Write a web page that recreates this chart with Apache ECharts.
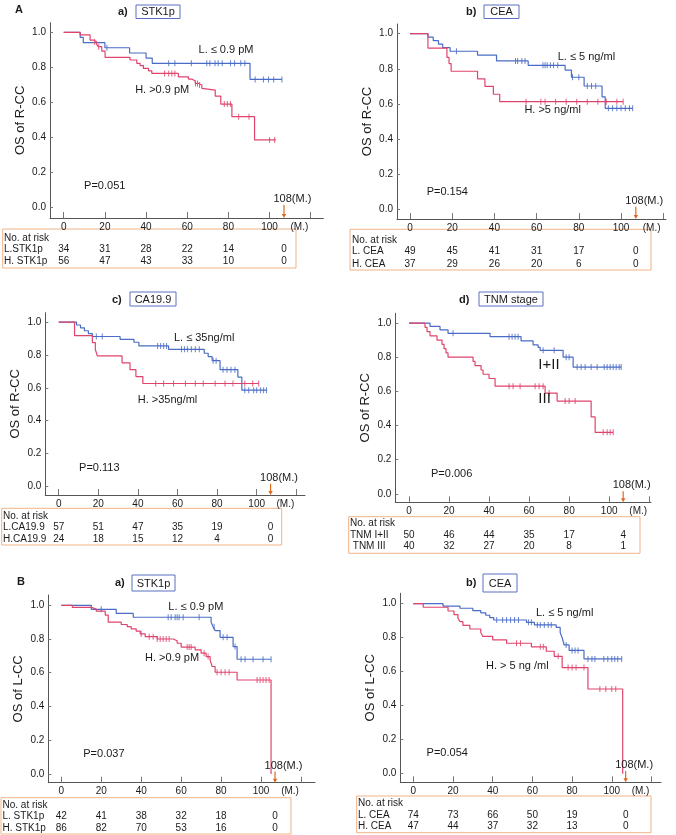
<!DOCTYPE html>
<html><head><meta charset="utf-8">
<script src="https://cdn.jsdelivr.net/npm/echarts@6/dist/echarts.min.js"></script>
<style>html,body{margin:0;padding:0;background:#fff}#c{width:676px;height:835px}</style>
</head><body><div id="c"></div>
<script>
// ---------------- DATA ----------------
const xTickValues = [0, 20, 40, 60, 80, 100, 120];
const xLabelValues = [0, 20, 40, 60, 80, 100];
const yTickValues = [0, 0.2, 0.4, 0.6, 0.8, 1.0];
const riskTimes = [0, 20, 40, 60, 80, 107];
const cutoffTime = 107;          // "108(M.)" marker
const cutoffLabel = '108(M.)';

// A a) STK1p, R-CC
const aSTK_L_steps = [[0,1],[8,0.971],[9.5,0.941],[20,0.912],[32,0.882],[40,0.853],[43,0.823],[90.5,0.731]];
const aSTK_L_end = 106;
const aSTK_L_cens = [21,51,54,62,69.5,71,73.5,75,77,81,83,86,88,93,97,99.5,102,106];
const aSTK_H_steps = [[0,1],[8,0.985],[12.8,0.956],[14.4,0.946],[16,0.931],[16.8,0.918],[18.5,0.893],[20.1,0.857],[32.2,0.842],[35.5,0.823],[37.1,0.81],[38.7,0.794],[41.2,0.78],[42.8,0.765],[55.7,0.746],[60.6,0.733],[62.2,0.722],[63.9,0.708],[65.5,0.699],[67.1,0.68],[67.9,0.67],[73.6,0.636],[76.3,0.59],[81.7,0.518],[92.7,0.385]];
const aSTK_H_end = 103;
const aSTK_H_cens = [15,17,49,51,52.5,54,64,65,66,78,79.5,81,85,90,100,102.5];
const aSTK_riskNames = ['No. at risk', 'L.STK1p', 'H. STK1p'];
const aSTK_riskL = [34, 31, 28, 22, 14, 0];
const aSTK_riskH = [56, 47, 43, 33, 10, 0];

// A b) CEA, R-CC
const aCEA_L_steps = [[0,1],[8.5,0.98],[11,0.96],[13.5,0.94],[15.5,0.92],[19,0.90],[32,0.878],[41,0.845],[56,0.82],[73.5,0.793],[76.5,0.752],[82.5,0.702],[91,0.64],[92.5,0.575]];
const aCEA_L_end = 105.5;
const aCEA_L_cens = [22,50,51,53,54.5,63,64,65,66.5,68,70,77,80,84,86,88,94,96,98,100,102,104,105.5];
const aCEA_H_steps = [[0,1],[8.5,0.918],[17.5,0.865],[18.5,0.83],[19.5,0.786],[32,0.743],[35.5,0.70],[39.5,0.655],[42.5,0.613]];
const aCEA_H_end = 101;
const aCEA_H_cens = [55,62,64,69,74,79,84,89,93,98,101];
const aCEA_riskNames = ['No. at risk', 'L. CEA', 'H. CEA'];
const aCEA_riskL = [49, 45, 41, 31, 17, 0];
const aCEA_riskH = [37, 29, 26, 20, 6, 0];

// A c) CA19.9, R-CC
const aCA_L_steps = [[0,1],[9,0.982],[11,0.965],[13,0.947],[15,0.93],[17,0.912],[31,0.895],[38,0.877],[40.5,0.855],[55.5,0.834],[73.5,0.81],[75.5,0.79],[77.5,0.765],[81.5,0.71],[90.5,0.665],[92.5,0.585]];
const aCA_L_end = 105;
const aCA_L_cens = [19,22,50,51.5,53,54.5,62,63.5,65,67,69,71,78,79.5,83,85,87,89,94,96,98.5,100,102,103.5,105];
const aCA_H_steps = [[0,1],[8,0.917],[17,0.875],[18.5,0.833],[19.5,0.794],[32,0.752],[36,0.71],[39,0.668],[42.5,0.626]];
const aCA_H_end = 101;
const aCA_H_cens = [49,53,58,64,69,73,79,84,88,94,98,101];
const aCA_riskNames = ['No. at risk', 'L.CA19.9', 'H.CA19.9'];
const aCA_riskL = [57, 51, 47, 35, 19, 0];
const aCA_riskH = [24, 18, 15, 12, 4, 0];

// A d) TNM stage, R-CC
const aTNM_L_steps = [[0,1],[10.5,0.98],[15.5,0.96],[19.5,0.94],[40.5,0.92],[56,0.895],[62,0.872],[64.5,0.858],[65.5,0.84],[77,0.80],[82,0.742]];
const aTNM_L_end = 106;
const aTNM_L_cens = [22,50,51.5,53,54.5,67,72.5,78.5,80,84,86,88,91,94,97.5,99,100.5,102,103.5,105,106];
const aTNM_H_steps = [[0,1],[8,0.975],[9,0.95],[10.5,0.925],[14,0.90],[16.5,0.875],[17.5,0.85],[18.5,0.825],[19.5,0.80],[32,0.775],[33,0.75],[36,0.725],[37,0.70],[40,0.675],[43,0.63],[68,0.59],[74,0.543],[91,0.45],[93,0.36]];
const aTNM_H_end = 102;
const aTNM_H_cens = [50,52,55.5,63,65,67,70,78,80,83,97,99,100.5,102];
const aTNM_riskNames = ['No. at risk', 'TNM I+II', ' TNM III'];
const aTNM_riskL = [50, 46, 44, 35, 17, 4];
const aTNM_riskH = [40, 32, 27, 20, 8, 1];

// B a) STK1p, L-CC
const bSTK_L_steps = [[0,1],[15,0.976],[27.5,0.952],[36,0.929],[75,0.90],[76,0.872],[77,0.85],[79.5,0.81],[86,0.755],[88,0.68]];
const bSTK_L_end = 105;
const bSTK_L_cens = [20,53.5,55,57,58,59,61,69,76.5,81,83,87,90,92,96,101,105];
const bSTK_H_steps = [[0,1],[5.5,0.988],[15,0.977],[17.5,0.965],[22,0.942],[23.5,0.90],[30,0.886],[33,0.873],[35,0.86],[37.5,0.847],[39.5,0.83],[42,0.814],[48,0.80],[56,0.79],[58,0.775],[60,0.752],[67,0.736],[70,0.716],[72.5,0.696],[74.5,0.676],[75.5,0.637],[77,0.603],[88,0.557],[105,0]];
const bSTK_H_end = 105;
const bSTK_H_cens = [40,44,46,48,49.5,51,52.5,54,63,64,65,71.5,73.5,78,80,82,84,98,99.5,101,102.5,104];
const bSTK_riskNames = ['No. at risk', 'L. STK1p', 'H. STK1p'];
const bSTK_riskL = [42, 41, 38, 32, 18, 0];
const bSTK_riskH = [86, 82, 70, 53, 16, 0];

// B b) CEA, L-CC
const bCEA_L_steps = [[0,1],[15,0.986],[23.5,0.973],[30,0.959],[34,0.946],[36.5,0.932],[38.5,0.918],[40.5,0.904],[57,0.89],[61,0.875],[72,0.86],[74,0.83],[75,0.80],[76,0.757],[78.5,0.725],[86,0.675]];
const bCEA_L_end = 105;
const bCEA_L_cens = [42,45,47,49,51,53,58,59.5,62.5,64,66,68,69.5,77,80,81.5,83,88,90,91.5,96,98,100,101.5,103,105];
const bCEA_H_steps = [[0,1],[5,0.979],[17.5,0.957],[20.5,0.936],[22.5,0.915],[23.5,0.894],[25,0.872],[28.5,0.851],[34,0.83],[35,0.808],[40,0.787],[47,0.767],[59.5,0.746],[67,0.72],[71,0.69],[75,0.624],[88,0.498],[105.5,0]];
const bCEA_H_end = 105.5;
const bCEA_H_cens = [52,54,64,65.5,73,78,80,82,86,94,97,100,102];
const bCEA_riskNames = ['No. at risk', 'L. CEA', 'H. CEA'];
const bCEA_riskL = [74, 73, 66, 50, 19, 0];
const bCEA_riskH = [47, 44, 37, 32, 13, 0];

// ---------------- LAYOUT / STYLE ----------------
const FONT = '"Liberation Sans", Arial, Helvetica, sans-serif';
const BLUE = '#4a6cc6', RED = '#e0446c', ORANGE = '#e2681c';
const BOXC = '#f0b487', TITLEC = '#5b70c2', TXT = '#1a1a1a', AXC = '#555';

const panels = [
  { grid:{left:50, top:22.7, width:273.3, height:195.3}, x:[-6.66,126.1], y:[-0.061,1.055], yName:'OS of R-CC',
    L:[aSTK_L_steps,aSTK_L_end,aSTK_L_cens], H:[aSTK_H_steps,aSTK_H_end,aSTK_H_cens],
    letter:['a)',118,11.7], tbox:[136,5,44,13.5,'STK1p'],
    labels:[['L. \u2264 0.9 pM',65.5,0.899,11],['H. >0.9 pM',34.7,0.67,11],['P=0.051',9.9,0.123,11]],
    risk:{box:[2.7,229,293.3,39], rows:[238.3,249.7,261.7], nx:4, names:aSTK_riskNames, L:aSTK_riskL, H:aSTK_riskH} },
  { grid:{left:397, top:24, width:269, height:195}, x:[-6.16,121.3], y:[-0.055,1.055], yName:'OS of R-CC',
    L:[aCEA_L_steps,aCEA_L_end,aCEA_L_cens], H:[aCEA_H_steps,aCEA_H_end,aCEA_H_cens],
    letter:['b)',466,11.7], tbox:[484,5,35,13.5,'CEA'],
    labels:[['L. \u2264 5 ng/ml',70,0.869,11],['H. >5 ng/ml',54.2,0.565,11],['P=0.154',7.9,0.097,11]],
    risk:{box:[350,229.3,301,40.7], rows:[240,251.7,264], nx:352, names:aCEA_riskNames, L:aCEA_riskL, H:aCEA_riskH} },
  { grid:{left:45.3, top:312.7, width:259.7, height:182.3}, x:[-6.77,124.4], y:[-0.053,1.057], yName:'OS of R-CC',
    L:[aCA_L_steps,aCA_L_end,aCA_L_cens], H:[aCA_H_steps,aCA_H_end,aCA_H_cens],
    letter:['c)',112,300], tbox:[130,292,46,14,'CA19.9'],
    labels:[['L. \u2264 35ng/ml',58.2,0.904,11],['H. >35ng/ml',39.9,0.525,11],['P=0.113',10.3,0.11,11]],
    risk:{box:[1.7,508.3,280,36.7], rows:[516.7,527.7,539.3], nx:3, names:aCA_riskNames, L:aCA_riskL, H:aCA_riskH} },
  { grid:{left:395.3, top:313.3, width:255.7, height:189}, x:[-6.84,120.9], y:[-0.05,1.057], yName:'OS of R-CC',
    L:[aTNM_L_steps,aTNM_L_end,aTNM_L_cens], H:[aTNM_H_steps,aTNM_H_end,aTNM_H_cens],
    letter:['d)',459,300], tbox:[479,292,64,14,'TNM stage'],
    labels:[['I+II',64.6,0.754,15],['III',64.6,0.553,15],['P=0.006',11,0.115,11]],
    risk:{box:[348.7,516.7,291.3,36.6], rows:[523.3,535,546.7], nx:350, names:aTNM_riskNames, L:aTNM_riskL, H:aTNM_riskH} },
  { grid:{left:48.3, top:595, width:266.7, height:187.7}, x:[-6.5,127], y:[-0.052,1.061], yName:'OS of L-CC',
    L:[bSTK_L_steps,bSTK_L_end,bSTK_L_cens], H:[bSTK_H_steps,bSTK_H_end,bSTK_H_cens],
    letter:['a)',115,583], tbox:[132,575,43,16,'STK1p'],
    labels:[['L. \u2264 0.9 pM',53.6,0.992,11],['H. >0.9 pM',41.9,0.686,11],['P=0.037',11,0.117,11]],
    risk:{box:[1,797.7,290,36.3], rows:[805,816.7,828.3], nx:2.5, names:bSTK_riskNames, L:bSTK_riskL, H:bSTK_riskH} },
  { grid:{left:400.3, top:593.3, width:260.7, height:189}, x:[-6.55,124.8], y:[-0.051,1.061], yName:'OS of L-CC',
    L:[bCEA_L_steps,bCEA_L_end,bCEA_L_cens], H:[bCEA_H_steps,bCEA_H_end,bCEA_H_cens],
    letter:['b)',466,583], tbox:[483,574,34,18,'CEA'],
    labels:[['L. \u2264 5 ng/ml',61.8,0.944,11],['H. > 5 ng /ml',36.6,0.634,11],['P=0.054',6.7,0.12,11]],
    risk:{box:[356.7,796,294.3,36.7], rows:[803.3,815.3,826.7], nx:358, names:bCEA_riskNames, L:bCEA_riskL, H:bCEA_riskH} }
];

function survAt(steps, t) {
  let s = steps[0][1];
  for (const [ti, si] of steps) { if (ti <= t) s = si; }
  return s;
}

const option = { animation:false, backgroundColor:'#fff', textStyle:{fontFamily:FONT},
  grid:[], xAxis:[], yAxis:[], series:[] };

panels.forEach((p, i) => {
  option.grid.push(Object.assign({}, p.grid));
  option.xAxis.push({ type:'value', gridIndex:i, min:p.x[0], max:p.x[1],
    axisLine:{show:true, onZero:false, lineStyle:{color:AXC, width:1}},
    axisTick:{show:true, inside:true, length:6, customValues:xTickValues, lineStyle:{color:'#777'}},
    axisLabel:{show:true, customValues:xLabelValues.concat([114.5]), margin:4, fontSize:10, color:TXT, fontFamily:FONT,
      formatter:v => v > 110 ? '(M.)' : String(Math.round(v))},
    splitLine:{show:false} });
  option.yAxis.push({ type:'value', gridIndex:i, min:p.y[0], max:p.y[1],
    name:p.yName, nameLocation:'middle', nameGap:23, nameTextStyle:{fontSize:13, color:TXT, fontFamily:FONT},
    axisLine:{show:true, onZero:false, lineStyle:{color:AXC, width:1}},
    axisTick:{show:true, inside:true, length:3, customValues:yTickValues, lineStyle:{color:'#777'}},
    axisLabel:{show:true, customValues:yTickValues, margin:4, fontSize:10, color:TXT, fontFamily:FONT,
      formatter:v => v.toFixed(1)},
    splitLine:{show:false} });
  [[p.L, BLUE], [p.H, RED]].forEach(([c, col]) => {
    const [steps, end, cens] = c;
    const pts = steps.map(d => d.slice());
    pts.push([end, steps[steps.length-1][1]]);
    option.series.push({ type:'line', xAxisIndex:i, yAxisIndex:i, data:pts, step:'end',
      showSymbol:false, symbol:'none', lineStyle:{color:col, width:1.2}, silent:true, z:3 });
    option.series.push({ type:'scatter', xAxisIndex:i, yAxisIndex:i, symbol:'rect', symbolSize:[1,6],
      data:cens.map(t => [t, survAt(steps, t)]), itemStyle:{color:col, opacity:0.85}, silent:true, z:4 });
  });
});

const chart = echarts.init(document.getElementById('c'), null, {renderer:'canvas'});
chart.setOption(option);

function txt(text, x, y, size, align, weight) {
  return { type:'text', silent:true, z:10,
    style:{ text, x, y, font: (weight ? weight + ' ' : '') + size + 'px ' + FONT, fill:TXT,
      align:align||'left', verticalAlign:'middle', textAlign:align||'left', textVerticalAlign:'middle' } };
}
const g = [];
g.push(txt('A', 15, 9.5, 11, 'left', 'bold'));
g.push(txt('B', 17, 582, 11, 'left', 'bold'));

panels.forEach((p, i) => {
  const px = (x, y) => chart.convertToPixel({gridIndex:i}, [x, y]);
  // panel title
  g.push(txt(p.letter[0], p.letter[1], p.letter[2], 11, 'left', 'bold'));
  const tb = p.tbox;
  g.push({ type:'rect', silent:true, shape:{x:tb[0], y:tb[1], width:tb[2], height:tb[3]},
    style:{fill:'none', stroke:TITLEC, lineWidth:1} });
  g.push(txt(tb[4], tb[0] + tb[2]/2, tb[1] + tb[3]/2 + 0.5, 11, 'center'));
  // curve labels & p value
  p.labels.forEach(l => { const q = px(l[1], l[2]); g.push(txt(l[0], q[0], q[1], l[3], 'left')); });
  // 108 marker
  const top = px(cutoffTime, 0.015), bot = px(cutoffTime, p.y[0]);
  g.push({ type:'line', silent:true, z:11, shape:{x1:top[0], y1:top[1], x2:bot[0], y2:bot[1]-3},
    style:{stroke:ORANGE, lineWidth:1.2} });
  g.push({ type:'polygon', silent:true, z:11, shape:{points:[[bot[0]-2.2, bot[1]-4],[bot[0]+2.2, bot[1]-4],[bot[0], bot[1]]]},
    style:{fill:ORANGE} });
  const lab = px(cutoffTime, 0.02);
  g.push(txt(cutoffLabel, lab[0] - 10.5, lab[1] - 5, 11, 'left'));
  // risk table
  const r = p.risk;
  g.push({ type:'rect', silent:true, shape:{x:r.box[0], y:r.box[1], width:r.box[2], height:r.box[3]},
    style:{fill:'none', stroke:BOXC, lineWidth:1} });
  r.names.forEach((n, k) => g.push(txt(n, r.nx, r.rows[k], 10, 'left')));
  riskTimes.forEach((t, k) => {
    const xx = px(t, 0)[0];
    g.push(txt(String(r.L[k]), xx, r.rows[1], 10, 'center'));
    g.push(txt(String(r.H[k]), xx, r.rows[2], 10, 'center'));
  });
});

chart.setOption({ graphic: { elements: g } });
</script>
</body></html>
